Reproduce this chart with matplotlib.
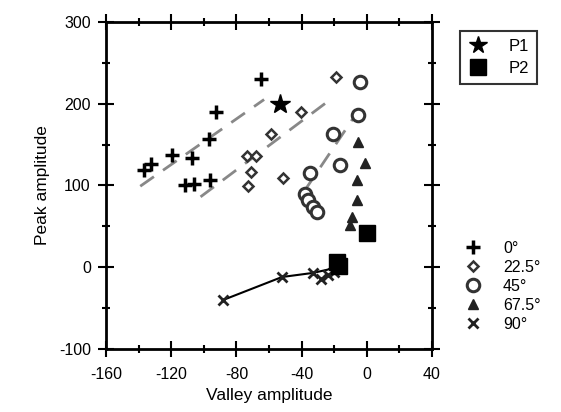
import matplotlib
matplotlib.use("Agg")
import matplotlib.pyplot as plt
from matplotlib.lines import Line2D
from matplotlib.ticker import MultipleLocator

plt.rcParams['font.family'] = ['Liberation Sans', 'DejaVu Sans']
plt.rcParams['axes.unicode_minus'] = False

# 0 degree (plus)
x0 = [-137, -132.5, -119.6, -107, -111.7, -106, -96, -97, -92.6, -65]
y0 = [119, 126, 137, 133, 100, 101.5, 106, 157, 190, 230]
# 22.5 degree (diamond)
x22 = [-19, -40.5, -59, -73.6, -68, -71, -73, -51.5]
y22 = [232, 190, 163, 136, 136, 116, 99, 109]
# 45 degree (circle)
x45 = [-4.3, -5.5, -21, -16.6, -35, -38, -36, -33, -30.7]
y45 = [226, 186, 163, 125, 115, 90, 82, 73, 67]
# 67.5 degree (triangle)
x67 = [-5.5, -1, -6, -6, -9, -10]
y67 = [153, 127, 106, 82, 61, 51]
# 90 degree (x)
x90 = [-88, -52, -33, -28, -24, -20]
y90 = [-40, -12, -7, -14, -10, -6]
# solid line through 90 degree points
line90_x = [-88, -52, -33, -24, -18]
line90_y = [-40, -12, -7, -3, 3]
# P1 / P2
p1_x = [-53]
p1_y = [200]
p2_x = [0, -18, -17]
p2_y = [42, 6, 1]
# dashed fit lines (start, end)
fit_x = [[-139, -63], [-102, -21], [-38, -7]]
fit_y = [[99, 205], [86, 207], [94, 186]]

fig = plt.figure(figsize=(5.61, 4.12), dpi=100)
ax = fig.add_axes([0.189, 0.153, 0.581, 0.794])

for fx, fy in zip(fit_x, fit_y):
    ax.plot(fx, fy, color='#888888', lw=2, ls=(0, (6, 4)), zorder=1)
ax.plot(line90_x, line90_y, color='black', lw=1.5, zorder=2)

ax.plot(x0, y0, ls='none', marker='+', ms=10, mew=2.5, color='black', zorder=3)
ax.plot(x22, y22, ls='none', marker='D', ms=5.5, mew=1.8, mfc='white', mec='#333333', zorder=3)
ax.plot(x45, y45, ls='none', marker='o', ms=9, mew=2.2, mfc='white', mec='#333333', zorder=3)
ax.plot(x67, y67, ls='none', marker='^', ms=7.5, color='#222222', zorder=3)
ax.plot(x90, y90, ls='none', marker='x', ms=7.5, mew=2, color='#222222', zorder=3)
ax.plot(p1_x, p1_y, ls='none', marker='*', ms=15, color='black', zorder=4)
ax.plot(p2_x, p2_y, ls='none', marker='s', ms=12, color='black', zorder=4)

ax.set_xlim(-160, 40)
ax.set_ylim(-100, 300)
ax.xaxis.set_major_locator(MultipleLocator(40))
ax.xaxis.set_minor_locator(MultipleLocator(20))
ax.yaxis.set_major_locator(MultipleLocator(100))
ax.yaxis.set_minor_locator(MultipleLocator(50))
ax.tick_params(which='both', direction='inout', top=True, right=True, width=1.5)
ax.tick_params(which='major', length=12, labelsize=11.5)
ax.tick_params(axis='x', which='major', pad=7)
ax.tick_params(axis='y', which='major', pad=5)
ax.tick_params(which='minor', length=6)
for s in ax.spines.values():
    s.set_linewidth(2)
ax.set_xlabel('Valley amplitude', fontsize=12.5, labelpad=4)
ax.set_ylabel('Peak amplitude', fontsize=12.5, labelpad=6)

h1 = [Line2D([], [], ls='none', marker='*', ms=13, color='black'),
      Line2D([], [], ls='none', marker='s', ms=11, color='black')]
leg1 = fig.legend(h1, ['P1', 'P2'], loc='upper left', bbox_to_anchor=(0.805, 0.945),
                  frameon=True, fancybox=False, edgecolor='black', fontsize=12,
                  handlelength=1.2, handletextpad=1.2, borderpad=0.5, labelspacing=0.4)
leg1.get_frame().set_linewidth(1.5)

h2 = [Line2D([], [], ls='none', marker='+', ms=10, mew=2.5, color='black'),
      Line2D([], [], ls='none', marker='D', ms=5.5, mew=1.8, mfc='white', mec='#333333'),
      Line2D([], [], ls='none', marker='o', ms=9, mew=2.2, mfc='white', mec='#333333'),
      Line2D([], [], ls='none', marker='^', ms=7.5, color='#222222'),
      Line2D([], [], ls='none', marker='x', ms=7.5, mew=2, color='#222222')]
fig.legend(h2, ['0°', '22.5°', '45°', '67.5°', '90°'], loc='upper left',
           bbox_to_anchor=(0.8, 0.45), frameon=False, fontsize=11.5,
           handlelength=1.2, handletextpad=1.3, labelspacing=0.25)

fig.savefig('out.png', dpi=100)
